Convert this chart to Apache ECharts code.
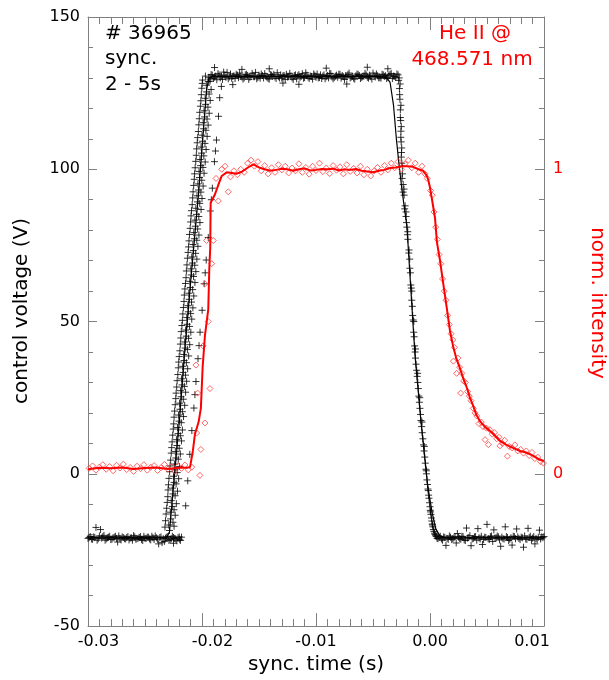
<!DOCTYPE html>
<html><head><meta charset="utf-8">
<script src="https://cdn.jsdelivr.net/npm/echarts@6/dist/echarts.min.js"></script>
<style>html,body{margin:0;padding:0;background:#fff}#c{width:609px;height:680px}</style>
</head><body><div id="c"></div>
<script>
// time in ms, voltage in V
var voltPts = [
[-30.0,-21.2],[-29.8,-20.6],[-29.6,-21.5],[-29.4,-20.9],[-29.3,-17.6],[-29.2,-21.8],[-29.0,-20.4],[-28.9,-18.3],[-28.8,-21.1],[-28.6,-20.2],[-28.4,-21.4],[-28.2,-20.8],[-28.0,-21.6],[-27.8,-21.0],[-27.6,-20.5],[-27.4,-22.4],[-27.2,-21.2],[-27.0,-20.7],[-26.8,-21.3],[-26.6,-20.9],[-26.4,-21.7],[-26.2,-21.0],[-26.0,-20.3],[-25.8,-21.5],[-25.6,-21.1],[-25.4,-20.6],[-25.2,-21.9],[-25.0,-21.2],[-24.8,-20.8],[-24.6,-21.4],[-24.4,-20.5],[-24.2,-21.6],[-24.0,-21.0],[-23.8,-23.0],[-23.6,-20.7],[-23.5,-22.6],[-23.4,-21.3],[-23.2,-21.1],[-23.0,-20.6],[-22.9,-21.9],[-22.7,-21.3],[-22.5,-20.9],[-22.5,-22.8],[-22.3,-21.4],[-22.1,-21.0],[-21.95,-21.5],[-21.8,-20.8],
[-29.9,-20.9],[-29.7,-21.4],[-29.5,-20.7],[-29.1,-21.3],[-28.7,-20.6],[-28.5,-21.8],[-28.3,-21.0],[-28.1,-20.5],[-27.9,-21.5],[-27.7,-20.8],[-27.5,-21.2],[-27.3,-20.4],[-27.1,-21.7],[-26.9,-20.9],[-26.7,-21.4],[-26.5,-20.6],[-26.3,-21.1],[-26.1,-21.8],[-25.9,-20.7],[-25.7,-21.3],[-25.5,-20.9],[-25.3,-21.6],[-25.1,-20.5],[-24.9,-21.2],[-24.7,-20.8],[-24.5,-21.7],[-24.3,-21.0],[-24.1,-20.4],[-23.9,-21.5],[-23.7,-20.9],[-23.3,-22.2],[-23.1,-20.8],[-22.8,-21.6],[-22.6,-20.5],[-22.4,-21.2],[-22.2,-22.0],[-22.0,-20.7],[-21.9,-21.9],
[-23.25,-17.5],[-22.85,-18.6],[-22.45,-17.2],[-23.15,-13.2],[-22.75,-14.8],[-22.35,-13.6],[-23.05,-9.4],[-22.6,-10.7],[-22.25,-9.8],[-22.98,-5.3],[-22.55,-6.6],[-22.15,-5.7],[-22.9,-1.5],[-22.45,-2.8],[-22.05,-1.6],[-22.8,2.6],[-22.38,1.3],[-21.98,2.4],[-22.7,6.8],[-22.3,5.2],[-21.9,6.5],[-22.62,10.5],[-22.2,9.3],[-21.8,10.8],[-22.52,14.7],[-22.1,13.2],[-21.72,14.4],[-22.45,18.6],[-22.02,17.3],[-21.62,18.8],[-22.35,22.7],[-21.93,21.2],[-21.52,22.5],[-22.27,26.5],[-21.84,25.3],[-21.44,26.8],[-22.18,30.6],[-21.75,29.2],[-21.35,30.4],[-22.08,34.8],[-21.66,33.3],[-21.26,34.5],[-22.0,38.5],[-21.57,37.2],[-21.17,38.7],[-21.9,42.6],[-21.48,41.3],[-21.08,42.4],[-21.82,46.7],[-21.38,45.2],[-20.98,46.5],[-21.72,50.4],[-21.3,49.1],[-20.9,50.8],[-21.63,54.6],[-21.2,53.2],[-20.8,54.5],[-21.55,58.7],[-21.12,57.3],[-20.72,58.4],[-21.45,62.5],[-21.02,61.2],[-20.62,62.8],[-21.37,66.6],[-20.94,65.3],[-20.54,66.4],[-21.28,70.8],[-20.85,69.2],[-20.45,70.5],[-21.18,74.5],[-20.76,73.3],[-20.36,74.7],[-21.1,78.6],[-20.67,77.2],[-20.27,78.4],[-21.0,82.7],[-20.58,81.3],[-20.18,82.5],[-20.92,86.4],[-20.48,85.2],[-20.08,86.8],[-20.82,90.6],[-20.4,89.3],[-20.0,90.4],[-20.73,94.7],[-20.3,93.2],[-19.9,94.5],[-20.65,98.5],[-20.22,97.3],[-19.82,98.7],[-20.55,102.6],[-20.12,101.2],[-19.72,102.4],[-20.47,106.7],[-20.04,105.3],[-19.64,106.5],[-20.38,110.4],[-19.95,109.2],[-19.55,110.8],[-20.28,114.6],[-19.86,113.3],[-19.46,114.5],[-20.2,118.7],[-19.77,117.2],[-19.37,118.4],[-20.1,122.5],[-19.68,121.3],[-19.28,122.6],[-20.02,126.6],[-19.6,125.4],[-19.2,126.2],[-19.95,129.3],[-19.7,130.6],[-19.45,128.8],
[-23.2,-15.4],[-22.92,-16.8],[-22.55,-15.9],[-23.1,-11.3],[-22.78,-12.6],[-22.45,-11.8],[-23.0,-7.5],[-22.7,-8.8],[-22.36,-7.2],[-22.94,-3.6],[-22.6,-4.7],[-22.27,-3.3],[-22.84,0.7],[-22.5,-0.8],[-22.18,0.4],[-22.75,4.5],[-22.42,3.2],[-22.08,4.8],[-22.66,8.6],[-22.34,7.3],[-22.0,8.4],[-22.57,12.7],[-22.24,11.2],[-21.9,12.5],[-22.48,16.4],[-22.15,15.2],[-21.82,16.8],[-22.4,20.6],[-22.06,19.3],[-21.72,20.4],[-22.3,24.7],[-21.97,23.2],[-21.64,24.5],[-22.22,28.5],[-21.88,27.3],[-21.55,28.7],[-22.12,32.6],[-21.8,31.2],[-21.45,32.4],[-22.04,36.7],[-21.7,35.3],[-21.37,36.5],[-21.94,40.4],[-21.6,39.2],[-21.28,40.8],[-21.86,44.6],[-21.52,43.3],[-21.18,44.5],[-21.76,48.7],[-21.44,47.2],[-21.1,48.4],[-21.68,52.5],[-21.34,51.3],[-21.0,52.6],[-21.58,56.6],[-21.25,55.2],[-20.92,56.4],[-21.5,60.7],[-21.16,59.3],[-20.82,60.5],[-21.4,64.4],[-21.07,63.2],[-20.74,64.8],[-21.32,68.6],[-20.98,67.3],[-20.64,68.5],[-21.22,72.7],[-20.9,71.2],[-20.56,72.4],[-21.14,76.5],[-20.8,75.3],[-20.46,76.7],[-21.04,80.6],[-20.72,79.2],[-20.38,80.4],[-20.96,84.7],[-20.62,83.3],[-20.28,84.5],[-20.86,88.4],[-20.54,87.2],[-20.2,88.8],[-20.78,92.6],[-20.44,91.3],[-20.1,92.5],[-20.68,96.7],[-20.36,95.2],[-20.02,96.4],[-20.6,100.5],[-20.26,99.3],[-19.92,100.6],[-20.5,104.6],[-20.18,103.2],[-19.84,104.4],[-20.42,108.7],[-20.08,107.3],[-19.74,108.5],[-20.32,112.4],[-20.0,111.2],[-19.66,112.8],[-20.24,116.6],[-19.9,115.3],[-19.56,116.5],[-20.14,120.7],[-19.82,119.2],[-19.48,120.4],[-20.06,124.5],[-19.72,123.3],[-19.38,124.7],[-19.98,128.2],[-19.62,127.6],[-19.3,128.9],
[-21.43,-10.5],[-21.25,-2.3],[-21.07,6.4],[-20.89,14.2],[-20.71,21.6],[-20.62,26.0],[-20.53,30.3],[-20.35,37.8],[-20.26,42.1],[-20.17,46.5],[-19.99,53.7],[-19.81,62.4],[-19.72,66.0],[-19.63,70.2],[-19.45,77.6],[-19.27,86.3],[-19.18,90.0],[-19.09,93.8],[-18.91,102.5],[-18.82,106.0],[-18.73,109.6],[-18.55,117.4],[-18.45,123.5],[-18.3,127.2],
[-19.4,130.2],[-19.2,131.1],[-19.0,129.8],[-18.8,130.6],[-18.6,131.4],[-18.4,130.0],[-18.2,129.5],[-18.0,130.9],[-17.8,131.8],[-17.6,130.3],[-17.4,129.9],[-17.2,130.7],[-17.0,131.2],[-16.8,130.1],[-16.6,130.5],[-16.4,129.6],[-16.2,131.0],[-16.0,130.8],[-15.8,130.2],[-15.6,131.5],[-15.4,130.4],[-15.2,129.7],[-15.0,130.9],[-14.8,131.3],[-14.6,130.0],[-14.4,130.6],[-14.2,129.8],[-14.0,131.1],[-13.8,130.5],[-13.6,130.3],[-13.4,131.7],[-13.2,130.0],[-13.0,129.9],[-12.8,130.8],[-12.6,131.2],[-12.4,130.4],[-12.2,130.6],[-12.0,129.5],[-11.8,131.0],[-11.6,130.7],[-11.4,130.2],[-11.2,131.4],[-11.0,130.1],[-10.8,130.9],[-10.6,129.8],[-10.4,130.5],[-10.2,131.3],[-10.0,130.2],[-9.8,130.0],[-9.6,131.0],[-9.4,130.6],[-9.2,129.7],[-9.0,130.8],[-8.8,131.5],[-8.6,130.3],[-8.4,130.1],[-8.2,130.9],[-8.0,131.2],[-7.8,129.9],[-7.6,130.4],[-7.4,130.7],[-7.2,131.1],[-7.0,130.0],[-6.8,130.5],[-6.6,129.6],[-6.4,131.3],[-6.2,130.8],[-6.0,130.2],[-5.8,130.6],[-5.6,131.0],[-5.4,129.9],[-5.2,130.4],[-5.0,131.6],[-4.8,130.3],[-4.6,130.7],[-4.4,130.1],[-4.2,131.2],[-4.0,130.5],[-3.8,129.8],[-3.6,130.9],[-3.4,131.4],[-3.2,130.6],[-3.0,130.2],[-2.8,131.0],
[-19.3,129.6],[-19.1,130.9],[-18.9,130.3],[-18.7,129.4],[-18.5,131.0],[-18.3,130.6],[-18.1,131.9],[-17.9,130.2],[-17.7,129.7],[-17.5,131.3],[-17.3,130.5],[-17.1,129.8],[-16.9,130.9],[-16.7,131.6],[-16.5,130.3],[-16.3,130.0],[-16.1,131.2],[-15.9,129.5],[-15.7,130.7],[-15.5,130.4],[-15.3,131.8],[-15.1,130.1],[-14.9,129.9],[-14.7,130.8],[-14.5,131.4],[-14.3,130.2],[-14.1,129.6],[-13.9,130.9],[-13.7,131.2],[-13.5,129.8],[-13.3,130.4],[-13.1,131.0],[-12.9,130.7],[-12.7,129.5],[-12.5,130.3],[-12.3,131.5],[-12.1,130.0],[-11.9,130.8],[-11.7,129.7],[-11.5,131.1],[-11.3,130.5],[-11.1,129.9],[-10.9,131.7],[-10.7,130.3],[-10.5,130.6],[-10.3,129.6],[-10.1,130.9],[-9.9,131.3],[-9.7,130.1],[-9.5,129.8],[-9.3,131.0],[-9.1,130.4],[-8.9,130.0],[-8.7,131.4],[-8.5,129.7],[-8.3,130.6],[-8.1,130.2],[-7.9,131.2],[-7.7,130.8],[-7.5,129.5],[-7.3,130.5],[-7.1,131.6],[-6.9,130.3],[-6.7,129.9],[-6.5,130.7],[-6.3,131.1],[-6.1,129.8],[-5.9,130.4],[-5.7,131.5],[-5.5,130.2],[-5.3,130.9],[-5.1,129.6],[-4.9,130.6],[-4.7,131.3],[-4.5,130.0],[-4.3,129.9],[-4.1,131.0],[-3.9,130.7],[-3.7,130.2],[-3.5,131.2],[-3.3,129.8],[-3.1,130.5],[-2.9,131.3],
[-18.9,133.4],[-17.3,127.8],[-16.5,132.8],[-14.1,133.0],[-12.9,128.3],[-11.5,127.9],[-9.1,133.2],[-7.3,128.0],[-5.5,133.5],[-3.7,133.0],
[-2.75,129.2],[-2.68,126.5],[-2.64,123.0],[-2.6,119.5],[-2.57,116.0],[-2.55,112.5],[-2.53,109.0],[-2.5,105.5],[-2.47,102.0],[-2.42,98.5],[-2.35,95.0],[-2.27,91.5],[-2.18,88.0],[-2.1,84.5],[-2.02,81.0],[-1.94,77.0],[-1.86,72.5],[-1.77,67.5],[-1.68,62.0],[-1.6,57.0],[-1.52,52.0],[-1.43,46.5],[-1.35,42.0],[-1.27,38.0],[-1.17,34.0],[-1.07,30.0],[-0.98,25.5],[-0.88,21.5],[-0.79,17.5],[-0.68,13.5],[-0.57,9.5],[-0.46,5.5],[-0.36,1.5],[-0.27,-2.0],[-0.18,-5.0],[-0.09,-8.0],[0.0,-10.8],[0.08,-13.3],[0.16,-15.5],[0.25,-17.4],[0.34,-18.9],[0.44,-19.9],[0.55,-20.6],
[-2.62,128.0],[-2.55,121.0],[-2.52,114.0],[-2.48,107.0],[-2.42,101.0],[-2.28,93.5],[-2.1,86.0],[-1.95,79.5],[-1.78,70.5],[-1.6,60.0],[-1.42,50.0],[-1.27,41.0],[-1.08,33.0],[-0.9,25.0],[-0.7,17.0],[-0.5,9.0],[-0.32,1.0],[-0.15,-5.5],[0.02,-12.0],[0.2,-16.5],[0.4,-19.5],[0.62,-21.2],
[-2.7,130.0],[-2.66,124.5],[-2.6,117.0],[-2.56,110.5],[-2.52,104.0],[-2.45,97.0],[-2.36,92.5],[-2.22,87.0],[-2.06,82.5],[-1.98,78.5],[-1.84,73.5],[-1.72,66.0],[-1.64,61.0],[-1.55,55.0],[-1.47,50.5],[-1.39,45.0],[-1.3,40.0],[-1.22,36.0],[-1.12,32.0],[-1.02,28.0],[-0.93,23.5],[-0.83,19.5],[-0.73,15.5],[-0.62,11.5],[-0.52,7.5],[-0.41,3.5],[-0.31,0.0],[-0.22,-3.5],[-0.12,-7.0],[-0.04,-9.5],[0.05,-12.5],[0.13,-14.5],[0.22,-16.8],[0.3,-18.3],[0.5,-20.3],
[0.7,-21.3],[0.9,-20.5],[1.1,-21.8],[1.3,-20.9],[1.4,-23.5],[1.5,-21.2],[1.7,-20.4],[1.9,-21.6],[2.1,-21.0],[2.3,-22.7],[2.4,-19.6],[2.5,-20.8],[2.7,-21.5],[2.9,-20.6],[3.1,-21.9],[3.2,-17.8],[3.3,-21.1],[3.5,-20.3],[3.6,-23.6],[3.7,-21.4],[3.9,-20.7],[4.1,-21.8],[4.2,-18.0],[4.3,-21.0],[4.5,-20.5],[4.6,-23.2],[4.7,-21.6],[4.9,-20.9],[5.0,-16.6],[5.1,-21.3],[5.3,-20.6],[5.5,-22.2],[5.6,-18.4],[5.7,-21.1],[5.9,-20.4],[6.1,-21.7],[6.2,-23.8],[6.3,-20.8],[6.5,-21.4],[6.6,-17.4],[6.7,-20.6],[6.9,-21.9],[7.1,-21.0],[7.2,-23.4],[7.3,-20.5],[7.5,-21.3],[7.6,-18.1],[7.7,-20.7],[7.9,-21.6],[8.1,-21.0],[8.2,-24.1],[8.3,-20.4],[8.5,-21.5],[8.6,-17.9],[8.7,-20.9],[8.9,-21.8],[9.1,-20.6],[9.2,-23.0],[9.3,-21.2],[9.5,-20.8],[9.6,-18.5],[9.7,-21.4],[9.9,-21.0],[10.0,-20.6],
[0.8,-20.9],[1.0,-21.4],[1.2,-20.7],[1.6,-21.5],[1.8,-20.8],[2.0,-21.3],[2.2,-20.6],[2.6,-21.2],[2.8,-20.5],[3.0,-21.7],[3.4,-20.9],[3.8,-21.2],[4.0,-20.6],[4.4,-21.4],[4.8,-20.8],[5.2,-21.6],[5.4,-20.4],[5.8,-21.0],[6.0,-20.7],[6.4,-21.3],[6.8,-20.9],[7.0,-21.5],[7.4,-20.6],[7.8,-21.2],[8.0,-20.8],[8.4,-21.4],[8.8,-20.5],[9.0,-21.1],[9.4,-21.6],[9.8,-20.7]
];
var voltFit = [
[-30,-21],[-23.1,-21],[-22.85,-19],[-22.45,-2],[-21.95,19],[-21.5,41],[-21.0,63],[-20.3,92],[-19.85,114],[-19.6,126],[-19.4,130],[-19.1,130.5],[-4.3,130.5],[-3.8,130],[-3.5,128.5],[-3.2,121],[-2.95,110],[-2.7,101],[-2.45,93],[-2.02,81],[-1.67,60],[-1.32,39],[-0.79,17],[-0.18,-4.6],[0.2,-13],[0.5,-18],[0.85,-20.3],[1.3,-21],[10,-21]
];
// normalized intensity
var intPts = [
[-29.9,0.018],[-29.6,0.026],[-29.3,0.012],[-29.0,0.022],[-28.7,0.03],[-28.4,0.015],[-28.1,0.024],[-27.8,0.01],[-27.5,0.028],[-27.2,0.019],[-26.9,0.032],[-26.6,0.014],[-26.3,0.021],[-26.0,0.008],[-25.7,0.025],[-25.4,0.017],[-25.1,0.03],[-24.8,0.012],[-24.5,0.022],[-24.2,0.027],[-23.9,0.011],[-23.6,0.02],[-23.3,0.031],[-23.0,0.015],[-22.7,0.024],[-22.4,0.009],[-22.1,0.026],[-21.8,0.018],[-21.5,0.029],[-21.2,0.013],[-20.9,0.022],
[-20.18,-0.005],[-20.47,0.134],[-19.74,0.167],[-20.53,0.357],[-20.38,0.265],[-19.3,0.28],[-19.45,0.5],[-19.74,0.624],[-19.15,0.69],[-19.6,0.766],[-19.01,0.766],[-18.57,0.896],[-18.77,0.97],[-18.27,1.0],[-17.69,0.926],[-17.98,1.01],[-20.1,0.08],[-19.9,0.42],
[-17.5,0.975],[-17.2,0.995],[-16.9,0.982],[-16.6,1.0],[-16.3,0.99],[-16.0,1.02],[-15.7,1.03],[-15.4,1.01],[-15.1,1.025],[-14.8,0.995],[-14.5,1.012],[-14.2,0.985],[-13.9,1.005],[-13.6,0.99],[-13.3,1.015],[-13.0,0.998],[-12.7,1.01],[-12.4,0.988],[-12.1,1.004],[-11.8,0.995],[-11.5,1.018],[-11.2,0.99],[-10.9,1.006],[-10.6,0.984],[-10.3,1.01],[-10.0,0.996],[-9.7,1.02],[-9.4,0.992],[-9.1,1.004],[-8.8,0.986],[-8.5,1.012],[-8.2,0.997],[-7.9,1.008],[-7.6,0.985],[-7.3,1.015],[-7.0,0.993],[-6.7,1.003],[-6.4,0.988],[-6.1,1.01],[-5.8,0.982],[-5.5,1.0],[-5.2,0.978],[-4.9,0.995],[-4.6,1.006],[-4.3,0.99],[-4.0,1.012],[-3.7,0.998],[-3.4,1.02],[-3.1,1.005],[-2.8,1.025],[-2.5,1.0],[-2.2,1.018],[-1.9,1.03],[-1.6,1.005],[-1.3,1.02],[-1.0,0.99],[-0.7,1.01],[-0.45,0.985],[-0.25,0.97],
[0.05,0.93],[0.2,0.915],[0.35,0.86],[0.5,0.81],[0.65,0.77],[0.8,0.72],[0.95,0.69],[1.1,0.64],[1.25,0.6],[1.4,0.57],[1.55,0.52],[1.7,0.49],[1.85,0.46],[2.0,0.44],[2.05,0.37],[2.15,0.415],[2.34,0.33],[2.45,0.38],[2.6,0.35],[2.69,0.265],[2.8,0.33],[2.95,0.305],[3.1,0.3],[3.3,0.27],[3.45,0.255],[3.6,0.24],[3.8,0.215],[3.95,0.2],[4.1,0.19],[4.3,0.165],[4.5,0.17],[4.65,0.155],[4.83,0.112],[4.95,0.15],[5.12,0.096],[5.25,0.145],[5.45,0.13],[5.65,0.135],[5.85,0.115],[6.05,0.12],[6.14,0.092],[6.35,0.1],[6.55,0.11],[6.79,0.058],[6.95,0.09],[7.2,0.085],[7.45,0.095],[7.7,0.075],[7.95,0.08],[8.2,0.068],[8.45,0.075],[8.7,0.06],[8.95,0.07],[9.2,0.05],[9.45,0.055],[9.7,0.04],[9.95,0.035]
];
var intLine = [
[-30,0.015],[-29,0.02],[-28,0.018],[-27,0.021],[-26,0.016],[-25,0.019],[-24,0.021],[-23,0.016],[-22,0.02],[-21.3,0.02],[-21.05,0.022],[-20.8,0.075],[-20.62,0.13],[-20.3,0.17],[-20.1,0.215],[-19.94,0.353],[-19.74,0.455],[-19.45,0.54],[-19.36,0.673],[-19.28,0.74],[-19.24,0.89],[-18.86,0.918],[-18.48,0.958],[-18.27,0.978],[-17.83,0.99],
[-17.0,0.985],[-16.5,0.992],[-16.0,1.005],[-15.5,1.016],[-15.0,1.006],[-14.5,1.0],[-14.0,0.995],[-13.5,0.998],[-13.0,1.002],[-12.5,1.0],[-12.0,0.995],[-11.5,1.0],[-11.0,1.003],[-10.5,0.996],[-10.0,0.998],[-9.5,1.001],[-9.0,1.0],[-8.5,1.002],[-8.0,0.996],[-7.5,1.0],[-7.0,0.998],[-6.5,1.001],[-6.0,0.995],[-5.5,0.993],[-5.0,0.99],[-4.5,0.995],[-4.0,0.998],[-3.5,1.004],[-3.0,1.006],[-2.5,1.01],[-2.0,1.01],[-1.5,1.008],[-1.0,1.0],[-0.6,0.995],[-0.3,0.98],[-0.15,0.965],
[0.0,0.94],[0.18,0.9],[0.44,0.84],[0.61,0.76],[0.88,0.70],[1.14,0.63],[1.49,0.54],[1.75,0.47],[2.02,0.42],[2.3,0.38],[2.63,0.346],[2.95,0.31],[3.25,0.281],[3.5,0.25],[3.77,0.225],[4.05,0.195],[4.39,0.173],[4.8,0.155],[5.26,0.141],[5.7,0.125],[6.14,0.108],[6.7,0.095],[7.28,0.085],[7.9,0.075],[8.51,0.069],[9.1,0.058],[9.65,0.046],[10.0,0.042]
];
var xTicks = [-0.03, -0.02, -0.01, 0.00, 0.01];
var yLeftTicks = [-50, 0, 50, 100, 150];
var yRightLabels = [0, 1];

function toSec(arr){ return arr.map(function(p){ return [p[0]/1000, p[1]]; }); }

var FONT = 'DejaVu Sans';
var AX = '#808080';
var chart = echarts.init(document.getElementById('c'), null, {renderer:'canvas'});

function xLabel(v){
  var s = (Math.abs(v) < 1e-9) ? '0.00' : v.toFixed(2);
  if (v < -0.015) return '{l|' + s + '}';
  if (v > 0.005) return '{r|' + s + '}';
  return s;
}

var option = {
  animation: false,
  backgroundColor: '#fff',
  grid: { left: 88, right: 65, top: 17, bottom: 51, containLabel: false },
  xAxis: [{
    type: 'value', position: 'bottom', min: xTicks[0], max: xTicks[xTicks.length-1], interval: 0.01,
    axisLine: { show: true, onZero: false, lineStyle: { color: AX, width: 1 } },
    axisTick: { inside: true, length: 13, lineStyle: { color: AX } },
    minorTick: { show: true, splitNumber: 10, length: 7, lineStyle: { color: AX } },
    splitLine: { show: false },
    axisLabel: { fontSize: 16, color: '#000', fontFamily: FONT, margin: 8, formatter: xLabel,
      rich: { l: { padding: [0,0,0,21], fontSize: 16, color: '#000', fontFamily: FONT },
              r: { padding: [0,24,0,0], fontSize: 16, color: '#000', fontFamily: FONT } } },
    name: 'sync. time (s)', nameLocation: 'middle', nameGap: 27,
    nameTextStyle: { fontSize: 20, color: '#000', fontFamily: FONT }
  }, {
    type: 'value', position: 'top', min: xTicks[0], max: xTicks[xTicks.length-1], interval: 0.01,
    axisLine: { show: true, onZero: false, lineStyle: { color: AX, width: 1 } },
    axisTick: { inside: true, length: 13, lineStyle: { color: AX } },
    minorTick: { show: true, splitNumber: 10, length: 7, lineStyle: { color: AX } },
    splitLine: { show: false }, axisLabel: { show: false }
  }],
  yAxis: [{
    type: 'value', position: 'left', min: yLeftTicks[0], max: yLeftTicks[yLeftTicks.length-1], interval: 50,
    axisLine: { show: true, onZero: false, lineStyle: { color: AX, width: 1 } },
    axisTick: { show: true, inside: true, length: 9, lineStyle: { color: AX } },
    minorTick: { show: true, splitNumber: 5, length: 5, lineStyle: { color: AX } },
    splitLine: { show: false },
    axisLabel: { fontSize: 16, color: '#000', fontFamily: FONT, margin: 8 }
  }, {
    type: 'value', position: 'right', min: -0.5, max: 1.5, interval: 0.5,
    axisLine: { show: true, onZero: false, lineStyle: { color: AX, width: 1 } },
    axisTick: { show: true, inside: true, length: 9, lineStyle: { color: AX } },
    minorTick: { show: true, splitNumber: 5, length: 5, lineStyle: { color: AX } },
    splitLine: { show: false },
    axisLabel: { fontSize: 16, color: '#ff0000', fontFamily: FONT, margin: 9,
      formatter: function(v){ for (var i=0;i<yRightLabels.length;i++){ if (Math.abs(v-yRightLabels[i])<1e-9) return String(yRightLabels[i]); } return ''; } }
  }],
  graphic: [
    { type: 'text', x: 105, y: 21, style: { text: '# 36965\nsync.\n2 - 5s', font: '20px "DejaVu Sans"', fill: '#000', lineHeight: 25.5, align: 'left', verticalAlign: 'top' } },
    { type: 'text', x: 475, y: 34, style: { text: 'He II @', font: '20px "DejaVu Sans"', fill: '#ff0000', align: 'center', verticalAlign: 'middle' } },
    { type: 'text', x: 472, y: 60, style: { text: '468.571 nm', font: '20px "DejaVu Sans"', fill: '#ff0000', align: 'center', verticalAlign: 'middle' } },
    { type: 'text', x: 22, y: 311, rotation: Math.PI/2, style: { text: 'control voltage (V)', font: '20px "DejaVu Sans"', fill: '#000', align: 'center', verticalAlign: 'middle' } },
    { type: 'text', x: 597, y: 303, rotation: -Math.PI/2, style: { text: 'norm. intensity', font: '20px "DejaVu Sans"', fill: '#ff0000', align: 'center', verticalAlign: 'middle' } }
  ],
  series: [
    { type: 'scatter', xAxisIndex: 0, yAxisIndex: 0, data: toSec(voltPts), symbol: 'path://M5,0L5,10M0,5L10,5', symbolSize: 7,
      itemStyle: { color: 'none', borderColor: '#000', borderWidth: 1 }, silent: true, z: 2 },
    { type: 'line', xAxisIndex: 0, yAxisIndex: 0, data: toSec(voltFit), showSymbol: false, symbol: 'none',
      lineStyle: { color: '#000', width: 1.2 }, silent: true, z: 3 },
    { type: 'scatter', xAxisIndex: 0, yAxisIndex: 1, data: toSec(intPts), symbol: 'path://M5,0L10,5L5,10L0,5Z', symbolSize: 6,
      itemStyle: { color: 'none', borderColor: '#ff4040', borderWidth: 1 }, silent: true, z: 4 },
    { type: 'line', xAxisIndex: 0, yAxisIndex: 1, data: toSec(intLine), showSymbol: false, symbol: 'none',
      lineStyle: { color: '#ff0000', width: 2 }, silent: true, z: 5 }
  ]
};
chart.setOption(option);
</script></body></html>
